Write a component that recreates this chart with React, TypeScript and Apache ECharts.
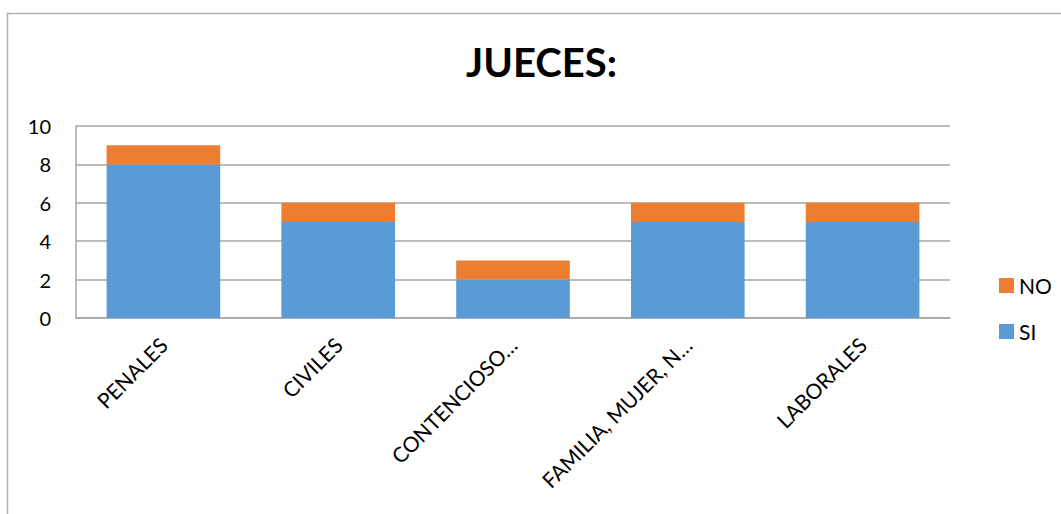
import React, { useEffect, useRef } from "react";
import * as echarts from "echarts";

const categories = ["PENALES", "CIVILES", "CONTENCIOSO…", "FAMILIA, MUJER, N…", "LABORALES"];
const siValues = [8, 5, 2, 5, 5];
const noValues = [1, 1, 1, 1, 1];
const yTicks = { min: 0, max: 10, interval: 2 };

const BLUE = "#5B9BD5";
const ORANGE = "#ED7D31";
const GRID = "#A6A6A6";
const FONT = "Lato, 'Open Sans', sans-serif";

export default function App() {
  const ref = useRef<HTMLDivElement>(null);

  useEffect(() => {
    if (!ref.current) return;
    const chart = echarts.init(ref.current, null, { renderer: "svg" });
    chart.setOption({
      animation: false,
      backgroundColor: "#ffffff",
      textStyle: { fontFamily: FONT, color: "#000" },
      title: {
        text: "JUECES:",
        left: 461,
        top: 37,
        textStyle: { fontFamily: FONT, fontSize: 40, fontWeight: "bold", color: "#000" },
      },
      graphic: [
        {
          type: "rect",
          shape: { x: 7.5, y: 13.5, width: 1100, height: 600 },
          style: { fill: "none", stroke: "#B0B0B0", lineWidth: 1.5 },
          silent: true,
        },
      ],
      legend: {
        data: ["NO", "SI"],
        orient: "vertical",
        left: 994,
        top: 270,
        itemWidth: 15,
        itemHeight: 15,
        itemGap: 25,
        icon: "rect",
        textStyle: { fontFamily: FONT, fontSize: 21, color: "#000" },
      },
      grid: { left: 76, right: 111, top: 126, bottom: 196, containLabel: false },
      xAxis: {
        type: "category",
        data: categories,
        axisLine: { show: true, lineStyle: { color: GRID, width: 1.5 } },
        axisTick: { show: false },
        axisLabel: {
          rotate: 45,
          margin: 23,
          interval: 0,
          fontFamily: FONT,
          fontSize: 21,
          color: "#000",
        },
      },
      yAxis: {
        type: "value",
        min: yTicks.min,
        max: yTicks.max,
        interval: yTicks.interval,
        axisLine: { show: true, lineStyle: { color: GRID, width: 1.5 } },
        axisTick: { show: false },
        splitLine: { show: true, lineStyle: { color: GRID, width: 1.5 } },
        axisLabel: { margin: 25, fontFamily: FONT, fontSize: 20, color: "#000" },
      },
      series: [
        {
          name: "SI",
          type: "bar",
          stack: "total",
          data: siValues,
          barCategoryGap: "35%",
          itemStyle: { color: BLUE },
        },
        {
          name: "NO",
          type: "bar",
          stack: "total",
          data: noValues,
          barCategoryGap: "35%",
          itemStyle: { color: ORANGE },
        },
      ],
    });
    return () => chart.dispose();
  }, []);

  return (
    <div
      ref={ref}
      style={{ position: "absolute", left: 0, top: 0, width: 1061, height: 514 }}
    />
  );
}
